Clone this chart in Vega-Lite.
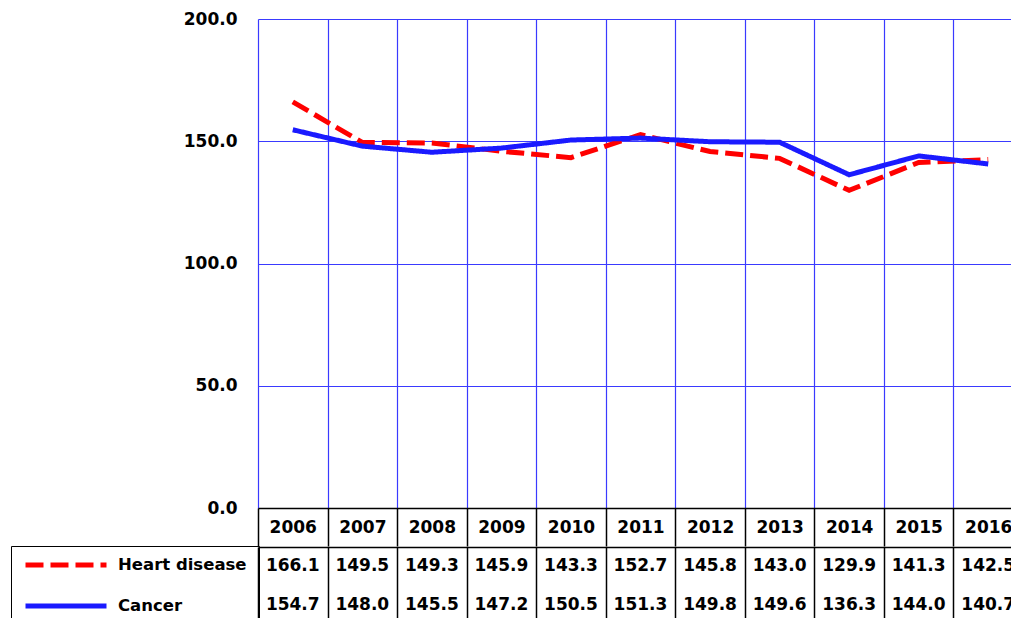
{
  "$schema": "https://vega.github.io/schema/vega-lite/v6.json",
  "background": "white",
  "padding": {"left": 10, "top": 10, "right": 0, "bottom": 0},
  "spacing": 0,
  "config": {
    "font": "DejaVu Sans",
    "view": {"stroke": null},
    "axis": {"labelFont": "DejaVu Sans", "labelFontWeight": "bold", "labelFontSize": 17, "labelColor": "black"},
    "legend": {
      "orient": "none",
      "legendX": -247,
      "legendY": 527,
      "symbolType": "stroke",
      "symbolSize": 6561,
      "symbolStrokeWidth": 5,
      "clipHeight": 14,
      "rowPadding": 24,
      "labelOffset": 9,
      "padding": 12,
      "strokeColor": "black",
      "labelFont": "DejaVu Sans",
      "labelFontSize": 16.5,
      "labelFontWeight": "bold",
      "labelColor": "black"
    }
  },
  "datasets": {
    "rates": [
      {"year": "2006", "series": "Heart disease", "value": 166.1},
      {"year": "2007", "series": "Heart disease", "value": 149.5},
      {"year": "2008", "series": "Heart disease", "value": 149.3},
      {"year": "2009", "series": "Heart disease", "value": 145.9},
      {"year": "2010", "series": "Heart disease", "value": 143.3},
      {"year": "2011", "series": "Heart disease", "value": 152.7},
      {"year": "2012", "series": "Heart disease", "value": 145.8},
      {"year": "2013", "series": "Heart disease", "value": 143.0},
      {"year": "2014", "series": "Heart disease", "value": 129.9},
      {"year": "2015", "series": "Heart disease", "value": 141.3},
      {"year": "2016", "series": "Heart disease", "value": 142.5},
      {"year": "2006", "series": "Cancer", "value": 154.7},
      {"year": "2007", "series": "Cancer", "value": 148.0},
      {"year": "2008", "series": "Cancer", "value": 145.5},
      {"year": "2009", "series": "Cancer", "value": 147.2},
      {"year": "2010", "series": "Cancer", "value": 150.5},
      {"year": "2011", "series": "Cancer", "value": 151.3},
      {"year": "2012", "series": "Cancer", "value": 149.8},
      {"year": "2013", "series": "Cancer", "value": 149.6},
      {"year": "2014", "series": "Cancer", "value": 136.3},
      {"year": "2015", "series": "Cancer", "value": 144.0},
      {"year": "2016", "series": "Cancer", "value": 140.7}
    ]
  },
  "vconcat": [
    {
      "width": 765,
      "height": 489,
      "data": {"name": "rates"},
      "mark": {"type": "line", "strokeWidth": 5},
      "encoding": {
        "x": {
          "field": "year", "type": "ordinal",
          "scale": {"paddingInner": 0, "paddingOuter": 0},
          "axis": {
            "title": null, "orient": "bottom", "labelAngle": 0,
            "domain": true, "domainColor": "black", "domainWidth": 1.5,
            "ticks": true, "tickColor": "black", "tickWidth": 1.5, "tickSize": 38, "tickBand": "extent",
            "labelPadding": -19, "labelBaseline": "middle",
            "grid": true, "gridColor": "#3a3aff", "gridWidth": 1.2
          }
        },
        "y": {
          "field": "value", "type": "quantitative",
          "scale": {"domain": [0, 200]},
          "axis": {
            "title": null, "values": [0, 50, 100, 150, 200], "format": ".1f",
            "domain": false, "ticks": false, "labelPadding": 21,
            "grid": true, "gridColor": "#3a3aff", "gridWidth": 1.2
          }
        },
        "color": {
          "field": "series", "type": "nominal",
          "scale": {"domain": ["Heart disease", "Cancer"], "range": ["#ff0000", "#1a1aff"]},
          "legend": {"title": null}
        },
        "strokeDash": {
          "field": "series", "type": "nominal",
          "scale": {"domain": ["Heart disease", "Cancer"], "range": [[18, 7], [1, 0]]},
          "legend": {"title": null}
        }
      }
    },
    {
      "width": 765,
      "height": 77,
      "data": {"name": "rates"},
      "mark": {"type": "text", "font": "DejaVu Sans", "fontWeight": "bold", "fontSize": 17, "color": "black"},
      "encoding": {
        "x": {
          "field": "year", "type": "ordinal",
          "scale": {"paddingInner": 0, "paddingOuter": 0},
          "axis": {
            "title": null, "orient": "top", "labels": false, "ticks": false,
            "domain": true, "domainColor": "black", "domainWidth": 1.5,
            "grid": true, "gridColor": "black", "gridWidth": 1.5, "tickBand": "extent"
          }
        },
        "y": {
          "field": "series", "type": "nominal",
          "scale": {"domain": ["Heart disease", "Cancer"], "paddingInner": 0, "paddingOuter": 0},
          "axis": null
        },
        "text": {"field": "value", "type": "quantitative", "format": ".1f"}
      }
    }
  ]
}
